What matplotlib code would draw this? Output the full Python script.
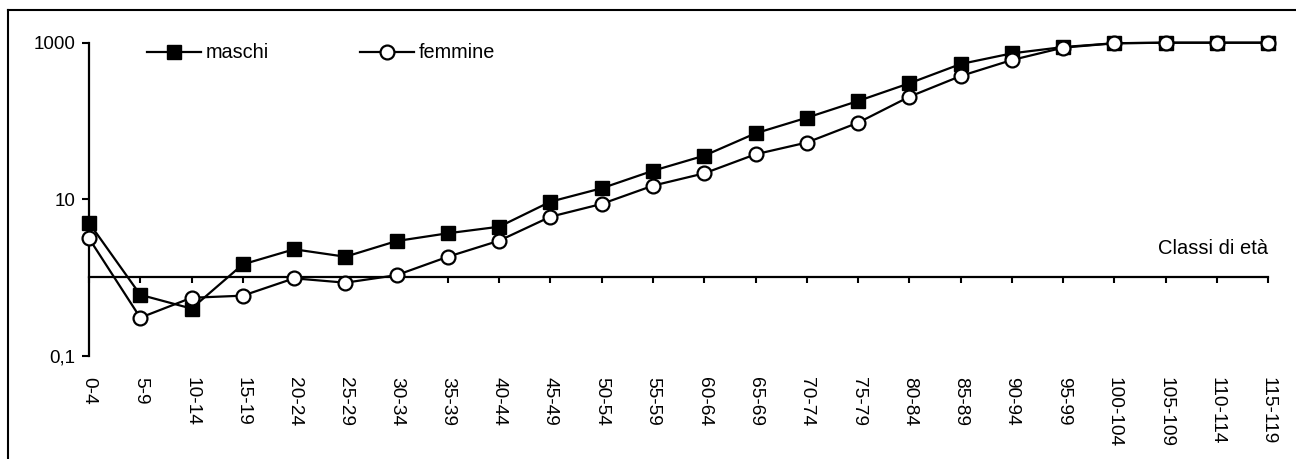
import matplotlib
matplotlib.use("Agg")
import matplotlib.pyplot as plt
from matplotlib.lines import Line2D
import matplotlib.transforms as mtransforms

plt.rcParams['font.family'] = ['Liberation Sans', 'DejaVu Sans']

categories = ["0-4", "5-9", "10-14", "15-19", "20-24", "25-29", "30-34", "35-39",
              "40-44", "45-49", "50-54", "55-59", "60-64", "65-69", "70-74", "75-79",
              "80-84", "85-89", "90-94", "95-99", "100-104", "105-109", "110-114", "115-119"]
maschi = [5.0, 0.60, 0.40, 1.47, 2.29, 1.84, 2.92, 3.67, 4.45, 9.3, 13.8, 23.1, 36.0,
          69.5, 110, 180, 303, 534, 731, 880, 985, 1000, 1000, 1000]
femmine = [3.16, 0.306, 0.55, 0.585, 0.975, 0.857, 1.07, 1.84, 2.95, 5.97, 8.7, 14.9,
           21.4, 37.5, 53, 95, 204, 375, 601, 865, 983, 1000, 1000, 1000]
ytick_vals = [0.1, 10, 1000]
ytick_labels = ["0,1", "10", "1000"]

W, H = 1296, 459
fig = plt.figure(figsize=(W / 100, H / 100), dpi=100)
ax = fig.add_axes([89 / W, 1 - 355.7 / H, (1268.3 - 89) / W, (355.7 - 42.7) / H])

x = list(range(len(categories)))
ax.plot(x, maschi, color='black', lw=1.6, marker='s', markersize=10,
        markerfacecolor='black', markeredgecolor='black', clip_on=False, zorder=3,
        label='maschi')
ax.plot(x, femmine, color='black', lw=1.6, marker='o', markersize=10,
        markerfacecolor='white', markeredgecolor='black', markeredgewidth=1.6,
        clip_on=False, zorder=4, label='femmine')

ax.set_yscale('log')
ax.set_ylim(0.1, 1000)
ax.set_xlim(0, len(categories) - 1)
ax.set_yticks(ytick_vals)
ax.set_yticklabels(ytick_labels)
ax.yaxis.set_minor_locator(matplotlib.ticker.NullLocator())
ax.set_xticks(x)
ax.tick_params(axis='x', labelbottom=False, direction='out', length=4.5, width=1.5)
ax.tick_params(axis='y', direction='out', length=5, width=1.5, labelsize=13.5, pad=5)

for s in ['top', 'right']:
    ax.spines[s].set_visible(False)
ax.spines['left'].set_linewidth(1.6)
ax.spines['bottom'].set_linewidth(1.6)
ax.spines['bottom'].set_position(('data', 1))

trans = mtransforms.blended_transform_factory(ax.transData, ax.transAxes)
for i, lab in enumerate(categories):
    ax.text(i, -21 / 313, lab, rotation=270, ha='center', va='top',
            fontsize=13.8, transform=trans)

fig.text(1268 / W, 1 - 254 / H, "Classi di età", ha='right', va='baseline', fontsize=14.5)

leg = fig.legend(loc='center left', bbox_to_anchor=(137 / W, 1 - 53 / H), ncol=2,
                 frameon=False, fontsize=14.3, borderpad=0, handlelength=2.7,
                 handletextpad=0.25, columnspacing=4.6)

# figure border (left and top edges)
fig.add_artist(Line2D([7.5 / W, 7.5 / W], [0, 1 - 10 / H], color='black', lw=1.5,
                      transform=fig.transFigure))
fig.add_artist(Line2D([7.5 / W, 1], [1 - 10 / H, 1 - 10 / H], color='black', lw=1.5,
                      transform=fig.transFigure))

fig.savefig("out.png", dpi=100)
